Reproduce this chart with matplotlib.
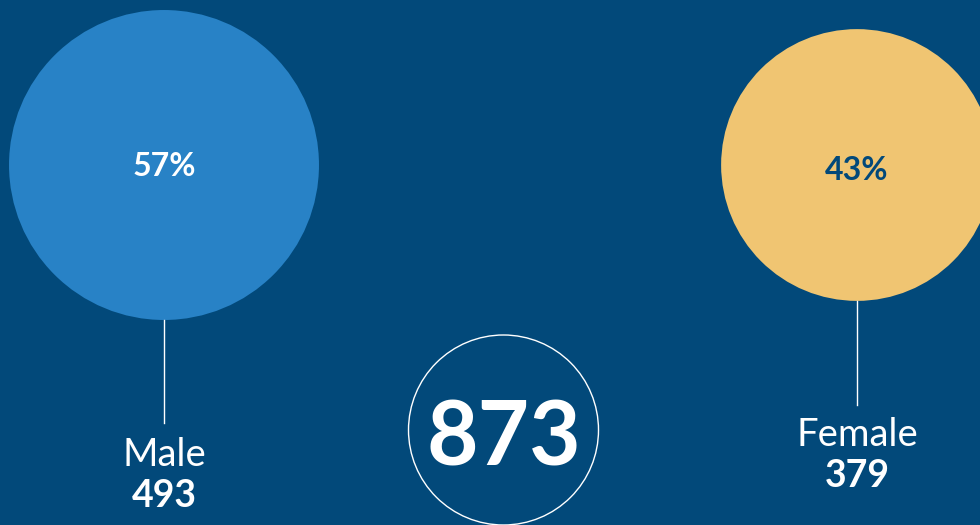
import numpy as np
import matplotlib.pyplot as plt
from matplotlib.patches import Circle

# data
labels = ["Male", "Female"]
counts = [493, 379]
percents = ["57%", "43%"]
total = 873

BG = "#02497A"
FILLS = ["#2882C6", "#F0C572"]
PCT_COLORS = ["white", BG]

centers_x = [164, 857]
centers_y = [165, 165]
pct_y = [167, 171]
line_ends = [423, 405]
label_y = [455, 435]
K = 6.98  # radius per sqrt(count), in px

plt.rcParams['font.family'] = ['Lato', 'DejaVu Sans']

fig = plt.figure(figsize=(9.8, 5.25), dpi=100, facecolor=BG)
ax = fig.add_axes([0, 0, 1, 1])
ax.set_facecolor(BG)
ax.set_xlim(0, 980)
ax.set_ylim(525, 0)
ax.set_aspect('equal')
ax.axis('off')

for i in range(len(labels)):
    r = K * np.sqrt(counts[i])
    cx, cy = centers_x[i], centers_y[i]
    ax.add_patch(Circle((cx, cy), r, facecolor=FILLS[i], edgecolor='none'))
    ax.text(cx, pct_y[i], percents[i], color=PCT_COLORS[i], fontsize=23,
            fontweight='bold', ha='center', va='center')
    ax.plot([cx, cx], [cy + r, line_ends[i]], color='white', lw=1)
    ax.text(cx, label_y[i], labels[i], color='white', fontsize=27.5,
            ha='center', va='center')
    ax.text(cx, label_y[i] + 41, str(counts[i]), color='white', fontsize=27,
            fontweight='bold', ha='center', va='center')

# total
ax.add_patch(Circle((503.5, 430), 95, facecolor='none', edgecolor='white', lw=1))
ax.text(503.5, 439, str(total), color='white', fontsize=64, fontweight='bold',
        ha='center', va='center')

fig.savefig('out.png', dpi=100, facecolor=BG)
